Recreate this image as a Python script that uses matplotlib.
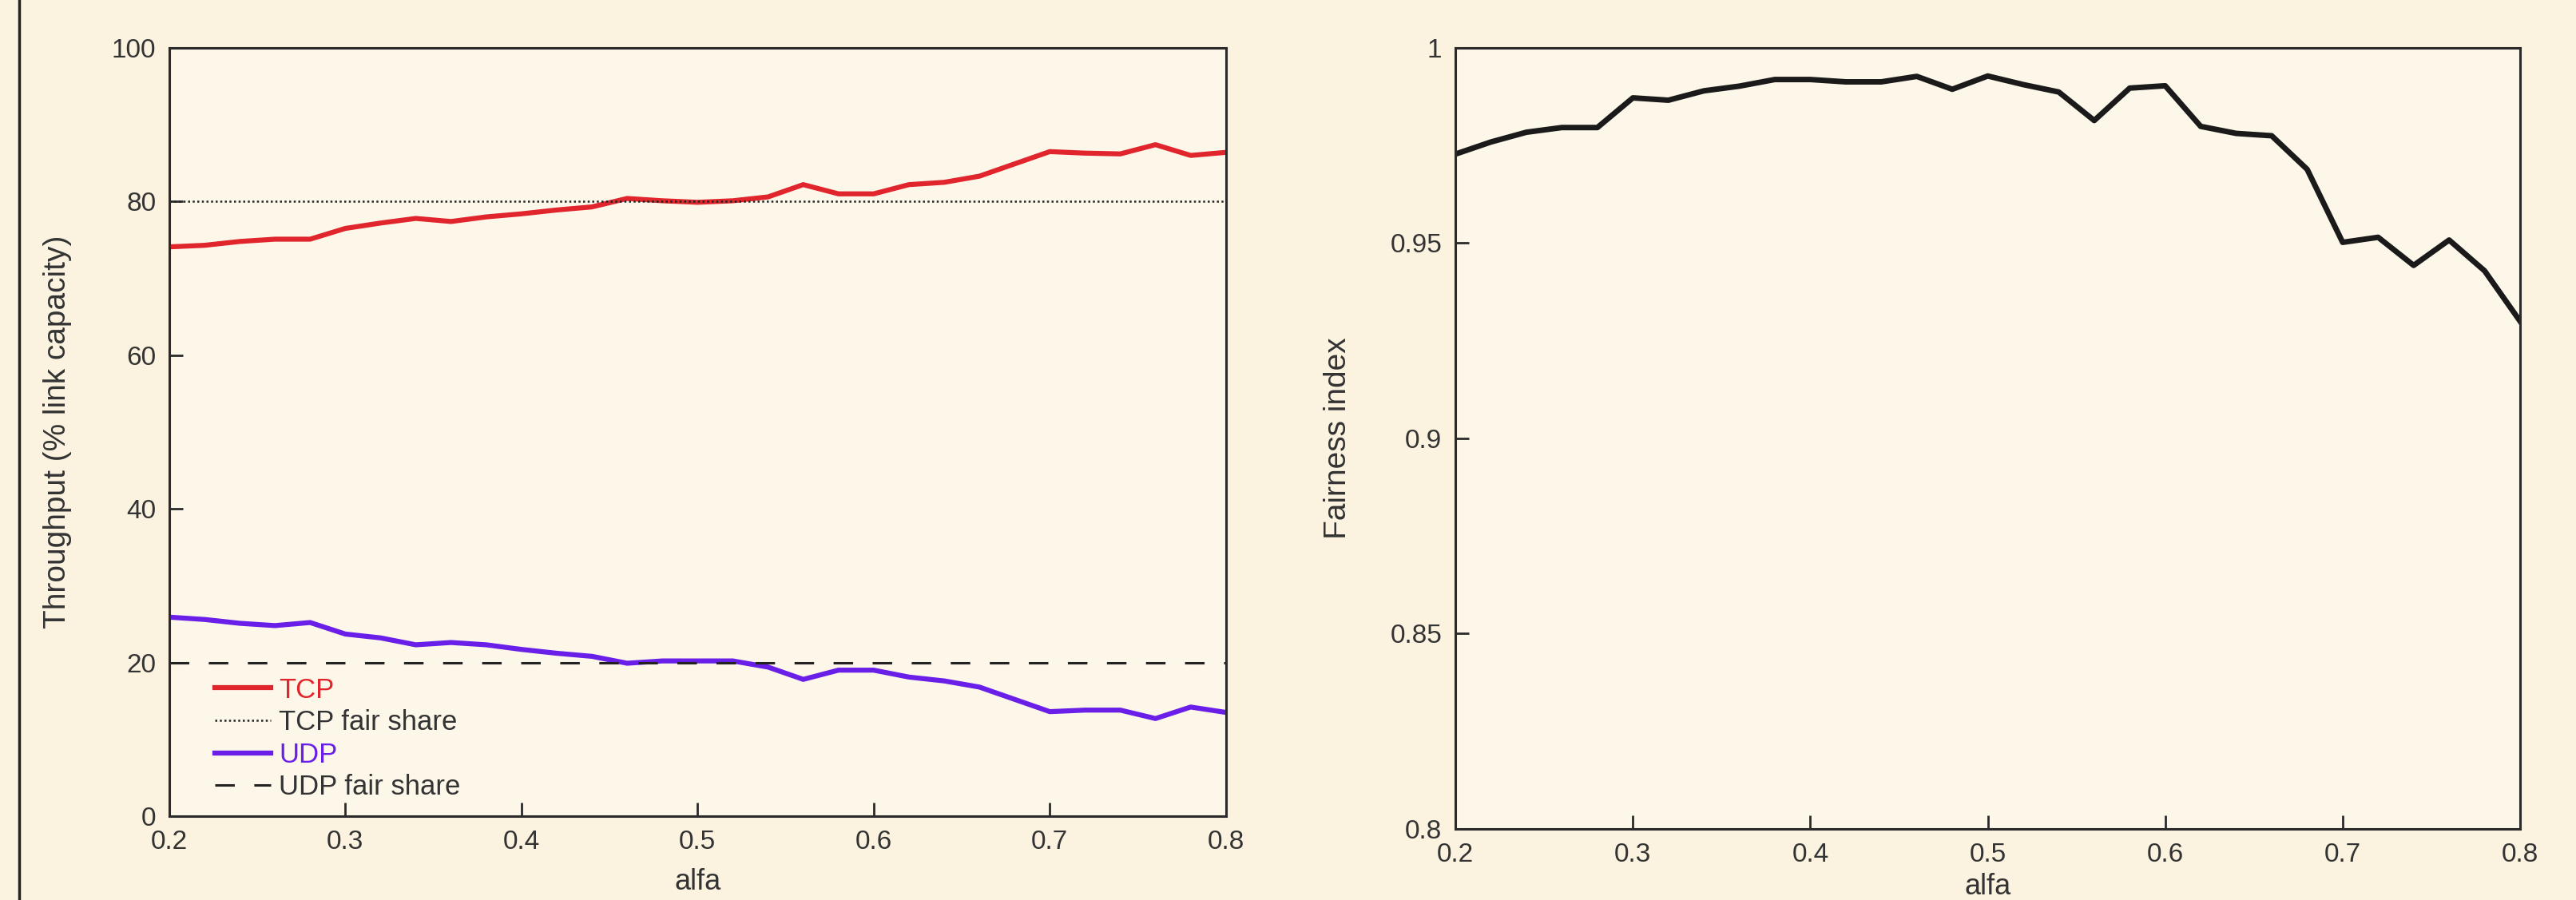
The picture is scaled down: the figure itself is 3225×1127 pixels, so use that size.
import numpy as np
import matplotlib
matplotlib.use('Agg')
import matplotlib.pyplot as plt
from matplotlib.lines import Line2D

# Valores de alfa (0.2 a 0.8, paso 0.02)
alfa = [0.20, 0.22, 0.24, 0.26, 0.28, 0.30, 0.32, 0.34, 0.36, 0.38, 0.40,
        0.42, 0.44, 0.46, 0.48, 0.50, 0.52, 0.54, 0.56, 0.58, 0.60,
        0.62, 0.64, 0.66, 0.68, 0.70, 0.72, 0.74, 0.76, 0.78, 0.80]

# Throughput (% link capacity)
tcp = [74.1, 74.3, 74.8, 75.1, 75.1, 76.5, 77.2, 77.8, 77.4, 78.0, 78.4,
       78.9, 79.3, 80.4, 80.1, 79.9, 80.1, 80.6, 82.2, 81.0, 81.0,
       82.2, 82.5, 83.3, 84.9, 86.5, 86.3, 86.2, 87.4, 86.0, 86.4]
udp = [25.9, 25.6, 25.1, 24.8, 25.2, 23.7, 23.2, 22.3, 22.6, 22.3, 21.7,
       21.2, 20.8, 19.9, 20.2, 20.2, 20.2, 19.4, 17.8, 19.0, 19.0,
       18.1, 17.6, 16.8, 15.2, 13.6, 13.8, 13.8, 12.7, 14.2, 13.5]
tcp_fair = 80
udp_fair = 20

# Fairness index
fairness = [0.9728, 0.9759, 0.9784, 0.9796, 0.9796, 0.9872, 0.9866, 0.9890,
            0.9902, 0.9919, 0.9919, 0.9913, 0.9913, 0.9927, 0.9894, 0.9928,
            0.9906, 0.9887, 0.9814, 0.9897, 0.9903, 0.9799, 0.9781, 0.9775,
            0.9689, 0.9502, 0.9515, 0.9443, 0.9508, 0.9429, 0.9300]

# Ticks
x_ticks = [0.2, 0.3, 0.4, 0.5, 0.6, 0.7, 0.8]
x_labels = ['0.2', '0.3', '0.4', '0.5', '0.6', '0.7', '0.8']
y1_ticks = [0, 20, 40, 60, 80, 100]
y1_labels = ['0', '20', '40', '60', '80', '100']
y2_ticks = [0.8, 0.85, 0.9, 0.95, 1.0]
y2_labels = ['0.8', '0.85', '0.9', '0.95', '1']

plt.rcParams['font.family'] = ['Liberation Sans', 'DejaVu Sans']

fondo = '#FBF2DF'
fondo_ejes = '#FDF7EA'
rojo = '#E0262C'
violeta = '#6A1FE8'
texto = '#333333'

fig = plt.figure(figsize=(32.25, 11.27), dpi=100, facecolor=fondo)
ax1 = fig.add_axes([0.0657, 0.0932, 0.4102, 0.8536])
ax2 = fig.add_axes([0.5650, 0.0790, 0.4133, 0.8678])

# borde izquierdo
fig.add_artist(Line2D([24 / 3225, 24 / 3225], [0, 1], color='#222222', lw=2.5))

for ax in (ax1, ax2):
    ax.set_facecolor(fondo_ejes)
    for s in ax.spines.values():
        s.set_linewidth(2.2)
        s.set_color('#2a2a2a')
    ax.tick_params(direction='in', length=12, width=2, colors='#2a2a2a',
                   labelsize=24, labelcolor=texto, pad=12)
    ax.set_xlim(0.2, 0.8)
    ax.set_xticks(x_ticks)
    ax.set_xticklabels(x_labels)

# Grafica de throughput
ax1.plot(alfa, tcp, color=rojo, lw=4.5, label='TCP')
ax1.axhline(tcp_fair, color='#222222', lw=1.8, ls=(0, (1, 1.3)), label='TCP fair share')
ax1.plot(alfa, udp, color=violeta, lw=4.5, label='UDP')
ax1.axhline(udp_fair, color='#222222', lw=2.2, ls=(0, (8, 8)), label='UDP fair share')
ax1.set_ylim(0, 100)
ax1.set_yticks(y1_ticks)
ax1.set_yticklabels(y1_labels)
ax1.set_xlabel('alfa', fontsize=26, color=texto)
ax1.set_ylabel('Throughput (% link capacity)', fontsize=28, color=texto)
ax1.xaxis.set_label_coords(0.5, -0.068)
ax1.yaxis.set_label_coords(-0.092, 0.5)
leg = ax1.legend(loc='lower left', frameon=False, fontsize=25,
                 bbox_to_anchor=(0.025, -0.005), handlelength=2.0,
                 handletextpad=0.3, labelspacing=0.22, borderaxespad=0.3)
for t, c in zip(leg.get_texts(), [rojo, texto, violeta, texto]):
    t.set_color(c)

# Grafica de fairness
ax2.plot(alfa, fairness, color='#1a1a1a', lw=5)
ax2.set_ylim(0.8, 1.0)
ax2.set_yticks(y2_ticks)
ax2.set_yticklabels(y2_labels)
ax2.set_xlabel('alfa', fontsize=26, color=texto)
ax2.set_ylabel('Fairness index', fontsize=28, color=texto)
ax2.xaxis.set_label_coords(0.5, -0.056)
ax2.yaxis.set_label_coords(-0.097, 0.5)

fig.savefig('out.png', dpi=100, facecolor=fondo)
